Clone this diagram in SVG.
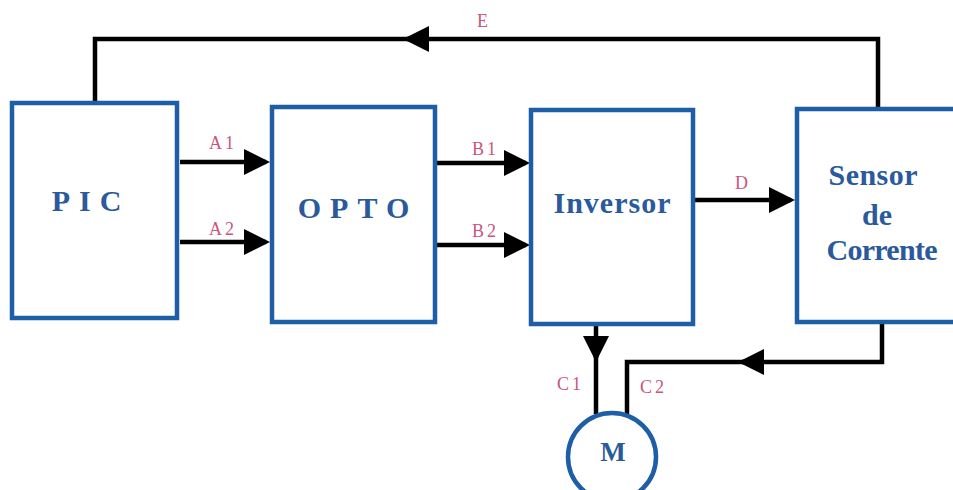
<svg xmlns="http://www.w3.org/2000/svg" width="953" height="490" viewBox="0 0 953 490">
<defs>
<style>
.box{fill:#fff;stroke:#1d5ea6;stroke-width:4.5}
.lbl{font-family:"Liberation Serif",serif;font-weight:bold;fill:#2a5a9c;text-anchor:middle}
.sig{font-family:"Liberation Serif",serif;font-size:18px;fill:#c9557d;letter-spacing:3px}
.wire{fill:none;stroke:#000;stroke-width:4.5;stroke-linejoin:miter}
</style>
<marker id="ah" viewBox="0 0 26 26" refX="22" refY="13" markerWidth="26" markerHeight="26" markerUnits="userSpaceOnUse" orient="auto">
<path d="M0,0 L26,13 L0,26 Z" fill="#000"/>
</marker>
</defs>
<rect width="953" height="490" fill="#fff"/>
<g id="connectors">
<path class="wire" d="M878,108 V39 H407" marker-end="url(#ah)"/>
<path class="wire" d="M410,39 H95 V102"/>
<path class="wire" d="M180,162 H266" marker-end="url(#ah)"/>
<path class="wire" d="M180,242 H266" marker-end="url(#ah)"/>
<path class="wire" d="M437,163 H526" marker-end="url(#ah)"/>
<path class="wire" d="M437,245 H526" marker-end="url(#ah)"/>
<path class="wire" d="M694,200 H791" marker-end="url(#ah)"/>
<path class="wire" d="M596,324 V358" marker-end="url(#ah)"/>
<path class="wire" d="M596,350 V414"/>
<path class="wire" d="M882,323 V362 H742" marker-end="url(#ah)"/>
<path class="wire" d="M745,362 H627 V414"/>
<text class="sig" x="477" y="27">E</text>
<text class="sig" x="209" y="149">A1</text>
<text class="sig" x="209" y="235">A2</text>
<text class="sig" x="472" y="155">B1</text>
<text class="sig" x="472" y="237">B2</text>
<text class="sig" x="735" y="189">D</text>
<text class="sig" x="557" y="390">C1</text>
<text class="sig" x="640" y="393">C2</text>
</g>
<g id="pic">
<rect class="box" x="12" y="103" width="165" height="215"/>
<text class="lbl" x="91" y="211" font-size="30" letter-spacing="9">PIC</text>
</g>
<g id="opto">
<rect class="box" x="272" y="107" width="163" height="215"/>
<text class="lbl" x="358" y="218" font-size="30" letter-spacing="9">OPTO</text>
</g>
<g id="inversor">
<rect class="box" x="531" y="110" width="162" height="214"/>
<text class="lbl" x="612" y="213" font-size="30" textLength="117" lengthAdjust="spacing">Inversor</text>
</g>
<g id="sensor">
<rect class="box" x="797" y="109" width="165" height="213"/>
<text class="lbl" x="873" y="185" font-size="30" textLength="89" lengthAdjust="spacing">Sensor</text>
<text class="lbl" x="877" y="225" font-size="30">de</text>
<text class="lbl" x="882" y="260" font-size="30" textLength="111" lengthAdjust="spacing">Corrente</text>
</g>
<g id="motor">
<circle cx="612" cy="457" r="44" fill="#fff" stroke="#1d5ea6" stroke-width="4.5"/>
<text class="lbl" x="613" y="461" font-size="27">M</text>
</g>
</svg>
